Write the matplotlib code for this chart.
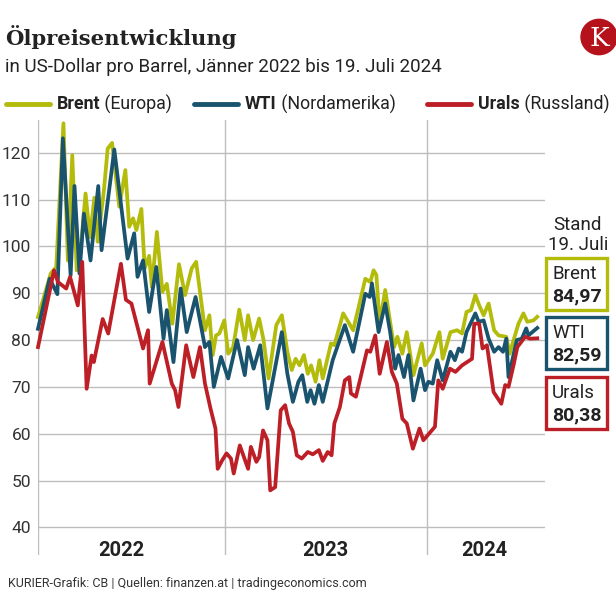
import matplotlib
matplotlib.use("Agg")
import matplotlib.pyplot as plt
import numpy as np
from matplotlib.patches import Rectangle, Circle
from matplotlib.lines import Line2D

# --- data (days since 2022-01-28, USD per barrel) ---
brent_days = [0, 23, 33, 46, 54, 62, 70, 76, 86, 94, 102, 108, 119, 126, 134, 147, 158, 165, 172, 178,
              187, 193, 201, 206, 215, 225, 233, 243, 255, 266, 278, 286, 302, 310, 316, 322, 328, 337, 344, 353,
              364, 374, 380, 389, 400, 408, 417, 431, 441, 451, 459, 466, 473, 481, 488, 494, 502, 509, 515, 530,
              536, 552, 570, 592, 601, 607, 612, 618, 628, 635, 644, 650, 659, 667, 679, 694, 700, 714, 726, 732,
              746, 758, 767, 775, 783, 791, 798, 806, 815, 825, 833, 847, 853, 869, 878, 885, 896, 903]
brent = [84.9, 94.2, 95.6, 126.3, 97, 119.5, 94.9, 97.8, 111.3, 102, 110.4, 101, 111.7, 120.9, 122.1, 108.5, 116.3, 104.2, 106, 103.5,
         108, 95.3, 98, 91.3, 103.1, 90.3, 92, 83.5, 96.2, 89.6, 95.3, 96.7, 82.1, 85.3, 76.8, 81, 81.4, 84.2, 77.1, 78.5,
         86.5, 80, 85.3, 80, 84.6, 80, 71.8, 83.2, 85.3, 77.5, 73.6, 76, 74.6, 76.8, 72.8, 74.6, 71.1, 75.7, 71.8, 79.3,
         78.9, 85.7, 82.1, 93.1, 92.4, 94.9, 93.9, 83.5, 90.7, 85.3, 78.5, 80.7, 77.1, 81.7, 72.5, 79.3, 74.6, 77.1, 81.7, 76,
         81.7, 82.1, 81.4, 86, 86.4, 89.6, 87.4, 85.3, 87.8, 82.1, 81, 80.7, 77.1, 83.5, 85.7, 83.9, 84.2, 84.97]

wti_days = [0, 21, 35, 45, 59, 66, 75, 83, 95, 109, 115, 138, 162, 174, 180, 190, 201, 214, 227, 233,
            245, 258, 269, 285, 302, 310, 318, 331, 344, 360, 374, 380, 390, 402, 415, 441, 451, 461, 471, 478,
            487, 493, 500, 508, 515, 533, 555, 570, 592, 600, 604, 616, 628, 637, 646, 652, 662, 670, 679, 692,
            700, 706, 714, 722, 732, 746, 754, 761, 767, 775, 791, 797, 806, 815, 825, 833, 841, 847, 851, 866,
            875, 883, 887, 903]
wti = [82.4, 93.1, 89.8, 123.1, 93.8, 112.9, 94.2, 107, 97, 112.9, 99.2, 120.7, 97.4, 102.8, 93.5, 97, 86, 95.6, 80.3, 86.4,
       75.3, 91, 81.7, 89.2, 78.5, 79.6, 70, 76.4, 71.8, 80, 72.5, 78.5, 73.9, 78.9, 65.4, 81.7, 72.8, 66.8, 71.1, 72.5,
       66.8, 69.3, 66.4, 70.4, 66.8, 75.7, 83.2, 77.5, 89.9, 89.2, 92.1, 81.7, 87.8, 81.7, 73.9, 76.8, 72.1, 76.8, 67.1, 73.9,
       69.3, 71.1, 70.7, 75.7, 71.4, 77.5, 75.7, 78.2, 77.5, 81.7, 85.7, 83.9, 84.2, 80.3, 77.5, 78.5, 77.5, 80.3, 72.1, 80,
       80.3, 82.5, 81, 82.59]

urals_days = [0, 29, 36, 51, 58, 72, 80, 88, 97, 101, 117, 127, 150, 159, 169, 190, 199, 202, 225, 242,
              248, 254, 268, 281, 293, 302, 312, 321, 325, 333, 341, 349, 354, 365, 380, 385, 395, 400, 407, 415,
              420, 429, 439, 447, 454, 461, 468, 477, 488, 497, 508, 515, 524, 531, 536, 546, 555, 563, 566, 575,
              583, 595, 601, 610, 618, 631, 640, 649, 659, 667, 678, 690, 697, 718, 724, 732, 745, 755, 767, 776,
              785, 789, 798, 804, 812, 818, 824, 838, 845, 851, 860, 867, 881, 890, 903]
urals = [78.5, 94.9, 92.4, 91, 93.5, 87.4, 96.7, 69.6, 76.7, 75.3, 84.5, 81.4, 96.3, 88.6, 87.8, 78.2, 82.1, 70.7, 79.6, 70.7,
         69.3, 65.7, 78.9, 72.1, 78.5, 70.7, 65.4, 61.1, 52.5, 54.3, 55.8, 54.7, 51.5, 57.5, 52.5, 57.2, 54, 55, 60.7, 58.6,
         47.9, 48.6, 65, 66.1, 62.2, 60.4, 55.4, 54.7, 56.1, 55.6, 56.5, 54.2, 56.1, 55.4, 62.2, 65.7, 71.4, 72.1, 68.6, 67.9,
         71.8, 77.8, 77.5, 81, 72.8, 79.6, 73.2, 70.7, 63.2, 62.2, 56.8, 61.1, 58.6, 61.5, 71.4, 69.6, 73.9, 73.2, 74.6, 75.3,
         76, 83.5, 83.5, 78.2, 78.9, 73.9, 68.9, 66.4, 70.4, 70, 74.6, 78.5, 80.7, 80.3, 80.38]

names = ["Brent", "WTI", "Urals"]
regions = ["(Europa)", "(Nordamerika)", "(Russland)"]
colors = ["#b3bb0b", "#1a536e", "#bd1f26"]
y_ticks = [40, 50, 60, 70, 80, 90, 100, 110, 120]
years = ["2022", "2023", "2024"]

start = np.datetime64("2022-01-28")
W, H = 616, 604
TXT = "#222222"
plt.rcParams["font.family"] = ["Roboto", "DejaVu Sans"]


def fx(px):
    return px / W


def fy(py):
    return 1 - py / H


fig = plt.figure(figsize=(W / 100, H / 100), dpi=100)
ax = fig.add_axes([fx(38), fy(555), fx(545) - fx(38), fy(120) - fy(555)])

series = [(brent_days, brent), (wti_days, wti), (urals_days, urals)]
for (d, v), c in zip(series, colors):
    x = start + np.array(d).astype("timedelta64[D]")
    ax.plot(x, v, color=c, lw=2.7, solid_joinstyle="round", clip_on=False, zorder=3)

ax.set_xlim(start, start + np.timedelta64(917, "D"))
ax.set_ylim(34.1, 127)
ax.set_yticks(y_ticks)
ax.set_yticklabels([str(t) for t in y_ticks], fontsize=12.5, color="#333333")
ax.tick_params(axis="y", length=0, pad=5)
ax.set_xticks([])
ax.yaxis.grid(True, color="#bdbdbd", lw=1)
ax.set_axisbelow(True)
for s in ax.spines.values():
    s.set_visible(False)

for b in [start, np.datetime64("2023-01-01"), np.datetime64("2024-01-01")]:
    ax.axvline(b, color="#bdbdbd", lw=1, zorder=1)

year_pos = [np.datetime64("2022-06-28"), np.datetime64("2023-07-01"), np.datetime64("2024-04-14")]
for lab, p in zip(years, year_pos):
    ax.text(p, 0.01, lab, transform=ax.get_xaxis_transform(), ha="center", va="center",
            fontsize=14.5, fontweight="bold", color=TXT)

# titles
fig.text(fx(5), fy(37), "Ölpreisentwicklung", fontsize=15.2, fontweight="bold",
         family="DejaVu Serif", color=TXT, va="center")
fig.text(fx(5), fy(67), "in US-Dollar pro Barrel, Jänner 2022 bis 19. Juli 2024",
         fontsize=13.5, color=TXT, va="center")

# logo
fig.add_artist(Circle((fx(599), fy(37)), fx(18), transform=fig.transFigure, color="#b5121b"))
fig.text(fx(599), fy(38), "K", family="DejaVu Serif", fontsize=19, color="white", ha="center", va="center")

# legend
leg_x = [6, 194, 427]
for lx, n, r, c in zip(leg_x, names, regions, colors):
    fig.add_artist(Line2D([fx(lx), fx(lx + 44)], [fy(104), fy(104)], color=c, lw=3.5,
                          solid_capstyle="round", transform=fig.transFigure))
    t = fig.text(fx(lx + 51), fy(104), n, fontsize=12.8, fontweight="bold", color=TXT, va="center")
    ax.annotate(" " + r, xy=(1, 0.5), xycoords=t, va="center", ha="left", fontsize=12.8, color=TXT,
                annotation_clip=False)

# right-hand value boxes
fig.text(fx(578), fy(225), "Stand", fontsize=13.5, color=TXT, ha="center", va="center")
fig.text(fx(578), fy(245), "19. Juli", fontsize=13.5, color=TXT, ha="center", va="center")
box_top = [258, 317, 377]
for top, n, (d, v), c in zip(box_top, names, series, colors):
    fig.add_artist(Rectangle((fx(546), fy(top + 52)), fx(61), fy(top) - fy(top + 52),
                             transform=fig.transFigure, fill=False, edgecolor=c, lw=2.4))
    fig.text(fx(552), fy(top + 16), n, fontsize=13.5, color=TXT, va="center")
    fig.text(fx(552), fy(top + 38), f"{v[-1]:.2f}".replace(".", ","), fontsize=14,
             fontweight="bold", color=TXT, va="center")

fig.text(fx(8), fy(584), "KURIER-Grafik: CB | Quellen: finanzen.at | tradingeconomics.com",
         fontsize=9, color="#333333", va="center")

fig.savefig("out.png", dpi=100, facecolor="white")
